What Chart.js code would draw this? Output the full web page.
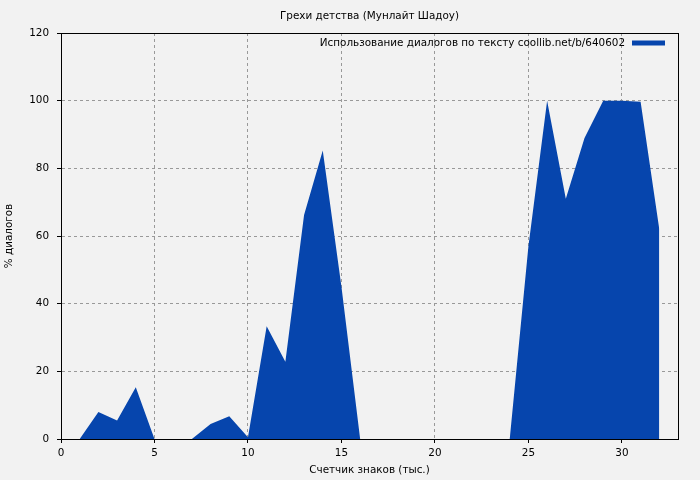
<!DOCTYPE html>
<html>
<head>
<meta charset="utf-8">
<script src="https://cdn.jsdelivr.net/npm/chart.js@4.4.1/dist/chart.umd.min.js"></script>
<style>
  html, body { margin: 0; padding: 0; background: #f2f2f2; }
  #wrap { width: 700px; height: 480px; }
</style>
</head>
<body>
<div id="wrap"><canvas id="dialogChart" width="700" height="480"></canvas></div>
<script>
const chartTitle = "Грехи детства (Мунлайт Шадоу)";
const seriesLabel = "Использование диалогов по тексту coollib.net/b/640602";
const xTitle = "Счетчик знаков (тыс.)";
const yTitle = "% диалогов";

// thousands of characters
const positions = [1, 2, 3, 4, 5, 6, 7, 8, 9, 10, 11, 12, 13, 14, 15, 16,
  17, 18, 19, 20, 21, 22, 23, 24, 25, 26, 27, 28, 29, 30, 31, 32];
// % of dialogue
const dialogShare = [0, 8.0, 5.5, 15.3, 0, 0, 0, 4.4, 6.7, 0.5, 33.3, 22.8, 66.2, 85.3, 45, 0,
  0, 0, 0, 0, 0, 0, 0, 0, 57, 100, 71, 89, 100, 100, 99.7, 62];

const xTicks = [0, 5, 10, 15, 20, 25, 30];
const yTicks = [0, 20, 40, 60, 80, 100, 120];

const fillColor = "#0645ad";
const fontFamily = "'DejaVu Sans', sans-serif";
const fontSize = 10.4;

const points = positions.map((x, i) => ({ x: x, y: dialogShare[i] }));

// background, frame, title and legend drawn like the original
const framePlugin = {
  id: "frame",
  beforeDraw(chart) {
    const ctx = chart.ctx;
    ctx.save();
    ctx.fillStyle = "#f2f2f2";
    ctx.fillRect(0, 0, chart.width, chart.height);
    ctx.restore();
  },
  afterDraw(chart) {
    const ctx = chart.ctx;
    const a = chart.chartArea;
    ctx.save();
    ctx.strokeStyle = "#000";
    ctx.lineWidth = 1;
    ctx.strokeRect(Math.round(a.left) + 0.5, Math.round(a.top) + 0.5,
      Math.round(a.right - a.left), Math.round(a.bottom - a.top));

    ctx.font = fontSize + "px " + fontFamily;
    ctx.fillStyle = "#000";
    ctx.textBaseline = "middle";

    // title centred over the plot
    ctx.textAlign = "center";
    ctx.fillText(chartTitle, (a.left + a.right) / 2, 16);

    // legend, top right inside plot
    const ly = a.top + 10;
    ctx.textAlign = "right";
    ctx.fillText(chart.data.datasets[0].label, a.right - 53, ly);
    ctx.strokeStyle = chart.data.datasets[0].backgroundColor;
    ctx.lineWidth = 5;
    ctx.beginPath();
    ctx.moveTo(a.right - 46, ly);
    ctx.lineTo(a.right - 13, ly);
    ctx.stroke();
    ctx.restore();
  }
};

const ctx = document.getElementById("dialogChart").getContext("2d");
new Chart(ctx, {
  type: "line",
  data: {
    datasets: [{
      label: seriesLabel,
      data: points,
      fill: "origin",
      backgroundColor: fillColor,
      borderColor: fillColor,
      borderWidth: 0,
      pointRadius: 0,
      tension: 0
    }]
  },
  options: {
    responsive: false,
    animation: false,
    layout: { padding: { top: 33, right: 22 } },
    plugins: {
      legend: { display: false },
      tooltip: { enabled: false },
      title: { display: false }
    },
    scales: {
      x: {
        type: "linear",
        min: 0,
        max: 33,
        afterFit(scale) { scale.height = 41; },
        afterBuildTicks(scale) { scale.ticks = xTicks.map(v => ({ value: v })); },
        ticks: {
          color: "#000",
          font: { family: fontFamily, size: fontSize },
          padding: 4,
          maxRotation: 0
        },
        grid: {
          color: c => (c.tick && c.tick.value > 0) ? "#999" : "rgba(0,0,0,0)",
          tickColor: "#000",
          tickLength: 4,
          tickBorderDash: [],
          lineWidth: 1
        },
        border: { display: true, color: "#000", width: 1, dash: [3, 3] },
        title: {
          display: true,
          text: xTitle,
          color: "#000",
          font: { family: fontFamily, size: fontSize },
          padding: { top: 0, bottom: 3 }
        }
      },
      y: {
        min: 0,
        max: 120,
        afterFit(scale) { scale.width = 61; },
        afterBuildTicks(scale) { scale.ticks = yTicks.map(v => ({ value: v })); },
        ticks: {
          color: "#000",
          font: { family: fontFamily, size: fontSize },
          padding: 8
        },
        grid: {
          color: c => (c.tick && c.tick.value > 0 && c.tick.value < 120) ? "#999" : "rgba(0,0,0,0)",
          tickColor: "#000",
          tickLength: 4,
          tickBorderDash: [],
          lineWidth: 1
        },
        border: { display: true, color: "#000", width: 1, dash: [3, 3] },
        title: {
          display: true,
          text: yTitle,
          color: "#000",
          font: { family: fontFamily, size: fontSize },
          padding: { top: 3, bottom: 0 }
        }
      }
    }
  },
  plugins: [framePlugin]
});
</script>
</body>
</html>
